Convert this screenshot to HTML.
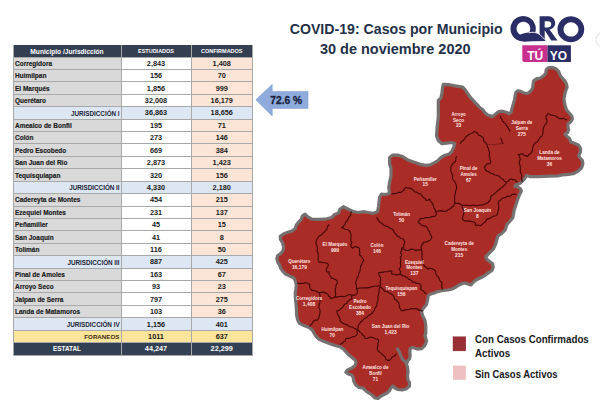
<!DOCTYPE html>
<html><head><meta charset="utf-8"><title>COVID-19: Casos por Municipio</title>
<style>
*{margin:0;padding:0;box-sizing:border-box}
html,body{width:600px;height:412px;overflow:hidden;background:#fff}
body{position:relative;font-family:"Liberation Sans",Arial,sans-serif}
.r{position:absolute}
.hl{position:absolute;left:13px;width:239.5px;height:1px;background:#a8a8a8}
.vl{position:absolute;top:45px;height:310.01px;width:1px;background:#a8a8a8}
.th{position:absolute;height:12px;line-height:12px;text-align:center;color:#fff;font-weight:bold;white-space:nowrap}
.th.sm{font-size:5.5px;}
.tn{position:absolute;left:15px;height:12.417px;line-height:12.417px;font-size:6.5px;font-weight:bold;color:#1a1a1a;white-space:nowrap;-webkit-text-stroke:0.15px #1a1a1a}
.tj{position:absolute;left:13px;width:106.6px;text-align:right;height:12.417px;line-height:12.417px;font-size:6.3px;font-weight:bold;color:#1b2436;white-space:nowrap;letter-spacing:0px}
.tf{position:absolute;left:13px;width:106.4px;text-align:right;height:12.417px;line-height:12.417px;font-size:6.2px;font-weight:bold;color:#3d2a0e;white-space:nowrap;letter-spacing:0px}
.te{position:absolute;left:13px;width:108px;text-align:center;height:12.417px;line-height:12.417px;font-size:6.4px;font-weight:bold;color:#fff;white-space:nowrap}
.num{position:absolute;height:12.417px;line-height:12.417px;text-align:center;font-size:7.3px;font-weight:bold;white-space:nowrap}
.title{position:absolute;width:300px;text-align:center;color:#233048;font-weight:bold;line-height:1;white-space:nowrap}
svg{position:absolute;left:0;top:0}
.leg{position:absolute;left:475.3px;color:#181818;font-weight:bold;font-size:10px;white-space:nowrap;line-height:13.7px;transform-origin:0 0}
</style></head><body>
<div class="r" style="left:13px;top:57.00px;width:108px;height:12.42px;background:#d9d9d9;"></div><div class="r" style="left:121px;top:57.00px;width:70px;height:12.42px;background:#ffffff;"></div><div class="r" style="left:191px;top:57.00px;width:61.5px;height:12.42px;background:#fce4d6;"></div><div class="r" style="left:13px;top:69.42px;width:108px;height:12.42px;background:#d9d9d9;"></div><div class="r" style="left:121px;top:69.42px;width:70px;height:12.42px;background:#ffffff;"></div><div class="r" style="left:191px;top:69.42px;width:61.5px;height:12.42px;background:#fce4d6;"></div><div class="r" style="left:13px;top:81.83px;width:108px;height:12.42px;background:#d9d9d9;"></div><div class="r" style="left:121px;top:81.83px;width:70px;height:12.42px;background:#ffffff;"></div><div class="r" style="left:191px;top:81.83px;width:61.5px;height:12.42px;background:#fce4d6;"></div><div class="r" style="left:13px;top:94.25px;width:108px;height:12.42px;background:#d9d9d9;"></div><div class="r" style="left:121px;top:94.25px;width:70px;height:12.42px;background:#ffffff;"></div><div class="r" style="left:191px;top:94.25px;width:61.5px;height:12.42px;background:#fce4d6;"></div><div class="r" style="left:13px;top:106.67px;width:108px;height:12.42px;background:#dde7f3;"></div><div class="r" style="left:121px;top:106.67px;width:70px;height:12.42px;background:#dde7f3;"></div><div class="r" style="left:191px;top:106.67px;width:61.5px;height:12.42px;background:#dde7f3;"></div><div class="r" style="left:13px;top:119.09px;width:108px;height:12.42px;background:#d9d9d9;"></div><div class="r" style="left:121px;top:119.09px;width:70px;height:12.42px;background:#ffffff;"></div><div class="r" style="left:191px;top:119.09px;width:61.5px;height:12.42px;background:#fce4d6;"></div><div class="r" style="left:13px;top:131.50px;width:108px;height:12.42px;background:#d9d9d9;"></div><div class="r" style="left:121px;top:131.50px;width:70px;height:12.42px;background:#ffffff;"></div><div class="r" style="left:191px;top:131.50px;width:61.5px;height:12.42px;background:#fce4d6;"></div><div class="r" style="left:13px;top:143.92px;width:108px;height:12.42px;background:#d9d9d9;"></div><div class="r" style="left:121px;top:143.92px;width:70px;height:12.42px;background:#ffffff;"></div><div class="r" style="left:191px;top:143.92px;width:61.5px;height:12.42px;background:#fce4d6;"></div><div class="r" style="left:13px;top:156.34px;width:108px;height:12.42px;background:#d9d9d9;"></div><div class="r" style="left:121px;top:156.34px;width:70px;height:12.42px;background:#ffffff;"></div><div class="r" style="left:191px;top:156.34px;width:61.5px;height:12.42px;background:#fce4d6;"></div><div class="r" style="left:13px;top:168.75px;width:108px;height:12.42px;background:#d9d9d9;"></div><div class="r" style="left:121px;top:168.75px;width:70px;height:12.42px;background:#ffffff;"></div><div class="r" style="left:191px;top:168.75px;width:61.5px;height:12.42px;background:#fce4d6;"></div><div class="r" style="left:13px;top:181.17px;width:108px;height:12.42px;background:#dde7f3;"></div><div class="r" style="left:121px;top:181.17px;width:70px;height:12.42px;background:#dde7f3;"></div><div class="r" style="left:191px;top:181.17px;width:61.5px;height:12.42px;background:#dde7f3;"></div><div class="r" style="left:13px;top:193.59px;width:108px;height:12.42px;background:#d9d9d9;"></div><div class="r" style="left:121px;top:193.59px;width:70px;height:12.42px;background:#ffffff;"></div><div class="r" style="left:191px;top:193.59px;width:61.5px;height:12.42px;background:#fce4d6;"></div><div class="r" style="left:13px;top:206.00px;width:108px;height:12.42px;background:#d9d9d9;"></div><div class="r" style="left:121px;top:206.00px;width:70px;height:12.42px;background:#ffffff;"></div><div class="r" style="left:191px;top:206.00px;width:61.5px;height:12.42px;background:#fce4d6;"></div><div class="r" style="left:13px;top:218.42px;width:108px;height:12.42px;background:#d9d9d9;"></div><div class="r" style="left:121px;top:218.42px;width:70px;height:12.42px;background:#ffffff;"></div><div class="r" style="left:191px;top:218.42px;width:61.5px;height:12.42px;background:#fce4d6;"></div><div class="r" style="left:13px;top:230.84px;width:108px;height:12.42px;background:#d9d9d9;"></div><div class="r" style="left:121px;top:230.84px;width:70px;height:12.42px;background:#ffffff;"></div><div class="r" style="left:191px;top:230.84px;width:61.5px;height:12.42px;background:#fce4d6;"></div><div class="r" style="left:13px;top:243.25px;width:108px;height:12.42px;background:#d9d9d9;"></div><div class="r" style="left:121px;top:243.25px;width:70px;height:12.42px;background:#ffffff;"></div><div class="r" style="left:191px;top:243.25px;width:61.5px;height:12.42px;background:#fce4d6;"></div><div class="r" style="left:13px;top:255.67px;width:108px;height:12.42px;background:#dde7f3;"></div><div class="r" style="left:121px;top:255.67px;width:70px;height:12.42px;background:#dde7f3;"></div><div class="r" style="left:191px;top:255.67px;width:61.5px;height:12.42px;background:#dde7f3;"></div><div class="r" style="left:13px;top:268.09px;width:108px;height:12.42px;background:#d9d9d9;"></div><div class="r" style="left:121px;top:268.09px;width:70px;height:12.42px;background:#ffffff;"></div><div class="r" style="left:191px;top:268.09px;width:61.5px;height:12.42px;background:#fce4d6;"></div><div class="r" style="left:13px;top:280.51px;width:108px;height:12.42px;background:#d9d9d9;"></div><div class="r" style="left:121px;top:280.51px;width:70px;height:12.42px;background:#ffffff;"></div><div class="r" style="left:191px;top:280.51px;width:61.5px;height:12.42px;background:#fce4d6;"></div><div class="r" style="left:13px;top:292.92px;width:108px;height:12.42px;background:#d9d9d9;"></div><div class="r" style="left:121px;top:292.92px;width:70px;height:12.42px;background:#ffffff;"></div><div class="r" style="left:191px;top:292.92px;width:61.5px;height:12.42px;background:#fce4d6;"></div><div class="r" style="left:13px;top:305.34px;width:108px;height:12.42px;background:#d9d9d9;"></div><div class="r" style="left:121px;top:305.34px;width:70px;height:12.42px;background:#ffffff;"></div><div class="r" style="left:191px;top:305.34px;width:61.5px;height:12.42px;background:#fce4d6;"></div><div class="r" style="left:13px;top:317.76px;width:108px;height:12.42px;background:#dde7f3;"></div><div class="r" style="left:121px;top:317.76px;width:70px;height:12.42px;background:#dde7f3;"></div><div class="r" style="left:191px;top:317.76px;width:61.5px;height:12.42px;background:#dde7f3;"></div><div class="r" style="left:13px;top:330.17px;width:108px;height:12.42px;background:#fde49b;"></div><div class="r" style="left:121px;top:330.17px;width:70px;height:12.42px;background:#fde49b;"></div><div class="r" style="left:191px;top:330.17px;width:61.5px;height:12.42px;background:#fde49b;"></div><div class="r" style="left:13px;top:342.59px;width:108px;height:12.42px;background:#333f52;"></div><div class="r" style="left:121px;top:342.59px;width:70px;height:12.42px;background:#333f52;"></div><div class="r" style="left:191px;top:342.59px;width:61.5px;height:12.42px;background:#333f52;"></div><div class="r" style="left:13px;top:45.00px;width:239.5px;height:12.00px;background:#343f52;"></div>
<div class="hl" style="top:56.50px"></div><div class="hl" style="top:68.92px"></div><div class="hl" style="top:81.33px"></div><div class="hl" style="top:93.75px"></div><div class="hl" style="top:106.17px"></div><div class="hl" style="top:118.59px"></div><div class="hl" style="top:131.00px"></div><div class="hl" style="top:143.42px"></div><div class="hl" style="top:155.84px"></div><div class="hl" style="top:168.25px"></div><div class="hl" style="top:180.67px"></div><div class="hl" style="top:193.09px"></div><div class="hl" style="top:205.50px"></div><div class="hl" style="top:217.92px"></div><div class="hl" style="top:230.34px"></div><div class="hl" style="top:242.75px"></div><div class="hl" style="top:255.17px"></div><div class="hl" style="top:267.59px"></div><div class="hl" style="top:280.01px"></div><div class="hl" style="top:292.42px"></div><div class="hl" style="top:304.84px"></div><div class="hl" style="top:317.26px"></div><div class="hl" style="top:329.67px"></div><div class="hl" style="top:342.09px"></div><div class="hl" style="top:354.51px"></div><div class="vl" style="left:12.5px"></div><div class="vl" style="left:120.5px"></div><div class="vl" style="left:190.5px"></div><div class="vl" style="left:252.0px"></div>
<div class="th" style="left:13px;width:108px;top:45.8px;font-size:6.6px">Municipio /Jurisdicción</div><div class="th sm" style="left:121px;width:70px;top:45px;">ESTUDIADOS</div><div class="th sm" style="left:191px;width:61.5px;top:45px;">CONFIRMADOS</div><div class="tn" style="top:57.75px">Corregidora</div><div class="num" style="left:121px;width:70px;top:57.80px;color:#1a1a1a">2,843</div><div class="num" style="left:191px;width:61.5px;top:57.80px;color:#1a1a1a">1,408</div><div class="tn" style="top:70.17px">Huimilpan</div><div class="num" style="left:121px;width:70px;top:70.22px;color:#1a1a1a">156</div><div class="num" style="left:191px;width:61.5px;top:70.22px;color:#1a1a1a">70</div><div class="tn" style="top:82.58px">El Marqués</div><div class="num" style="left:121px;width:70px;top:82.63px;color:#1a1a1a">1,856</div><div class="num" style="left:191px;width:61.5px;top:82.63px;color:#1a1a1a">999</div><div class="tn" style="top:95.00px">Querétaro</div><div class="num" style="left:121px;width:70px;top:95.05px;color:#1a1a1a">32,008</div><div class="num" style="left:191px;width:61.5px;top:95.05px;color:#1a1a1a">16,179</div><div class="tj" style="top:107.77px">JURISDICCIÓN I</div><div class="num" style="left:121px;width:70px;top:107.47px;color:#1a1a1a">36,863</div><div class="num" style="left:191px;width:61.5px;top:107.47px;color:#1a1a1a">18,656</div><div class="tn" style="top:119.84px">Amealco de Bonfil</div><div class="num" style="left:121px;width:70px;top:119.89px;color:#1a1a1a">195</div><div class="num" style="left:191px;width:61.5px;top:119.89px;color:#1a1a1a">71</div><div class="tn" style="top:132.25px">Colón</div><div class="num" style="left:121px;width:70px;top:132.30px;color:#1a1a1a">273</div><div class="num" style="left:191px;width:61.5px;top:132.30px;color:#1a1a1a">146</div><div class="tn" style="top:144.67px">Pedro Escobedo</div><div class="num" style="left:121px;width:70px;top:144.72px;color:#1a1a1a">669</div><div class="num" style="left:191px;width:61.5px;top:144.72px;color:#1a1a1a">384</div><div class="tn" style="top:157.09px">San Juan del Río</div><div class="num" style="left:121px;width:70px;top:157.14px;color:#1a1a1a">2,873</div><div class="num" style="left:191px;width:61.5px;top:157.14px;color:#1a1a1a">1,423</div><div class="tn" style="top:169.50px">Tequisquiapan</div><div class="num" style="left:121px;width:70px;top:169.55px;color:#1a1a1a">320</div><div class="num" style="left:191px;width:61.5px;top:169.55px;color:#1a1a1a">156</div><div class="tj" style="top:182.27px">JURISDICCIÓN II</div><div class="num" style="left:121px;width:70px;top:181.97px;color:#1a1a1a">4,330</div><div class="num" style="left:191px;width:61.5px;top:181.97px;color:#1a1a1a">2,180</div><div class="tn" style="top:194.34px">Cadereyta de Montes</div><div class="num" style="left:121px;width:70px;top:194.39px;color:#1a1a1a">454</div><div class="num" style="left:191px;width:61.5px;top:194.39px;color:#1a1a1a">215</div><div class="tn" style="top:206.75px">Ezequiel Montes</div><div class="num" style="left:121px;width:70px;top:206.80px;color:#1a1a1a">231</div><div class="num" style="left:191px;width:61.5px;top:206.80px;color:#1a1a1a">137</div><div class="tn" style="top:219.17px">Peñamiller</div><div class="num" style="left:121px;width:70px;top:219.22px;color:#1a1a1a">45</div><div class="num" style="left:191px;width:61.5px;top:219.22px;color:#1a1a1a">15</div><div class="tn" style="top:231.59px">San Joaquín</div><div class="num" style="left:121px;width:70px;top:231.64px;color:#1a1a1a">41</div><div class="num" style="left:191px;width:61.5px;top:231.64px;color:#1a1a1a">8</div><div class="tn" style="top:244.00px">Tolimán</div><div class="num" style="left:121px;width:70px;top:244.06px;color:#1a1a1a">116</div><div class="num" style="left:191px;width:61.5px;top:244.06px;color:#1a1a1a">50</div><div class="tj" style="top:256.77px">JURISDICCIÓN III</div><div class="num" style="left:121px;width:70px;top:256.47px;color:#1a1a1a">887</div><div class="num" style="left:191px;width:61.5px;top:256.47px;color:#1a1a1a">425</div><div class="tn" style="top:268.84px">Pinal de Amoles</div><div class="num" style="left:121px;width:70px;top:268.89px;color:#1a1a1a">163</div><div class="num" style="left:191px;width:61.5px;top:268.89px;color:#1a1a1a">67</div><div class="tn" style="top:281.26px">Arroyo Seco</div><div class="num" style="left:121px;width:70px;top:281.31px;color:#1a1a1a">93</div><div class="num" style="left:191px;width:61.5px;top:281.31px;color:#1a1a1a">23</div><div class="tn" style="top:293.67px">Jalpan de Serra</div><div class="num" style="left:121px;width:70px;top:293.72px;color:#1a1a1a">797</div><div class="num" style="left:191px;width:61.5px;top:293.72px;color:#1a1a1a">275</div><div class="tn" style="top:306.09px">Landa de Matamoros</div><div class="num" style="left:121px;width:70px;top:306.14px;color:#1a1a1a">103</div><div class="num" style="left:191px;width:61.5px;top:306.14px;color:#1a1a1a">36</div><div class="tj" style="top:318.86px">JURISDICCIÓN IV</div><div class="num" style="left:121px;width:70px;top:318.56px;color:#1a1a1a">1,156</div><div class="num" style="left:191px;width:61.5px;top:318.56px;color:#1a1a1a">401</div><div class="tf" style="top:331.27px">FORANEOS</div><div class="num" style="left:121px;width:70px;top:330.97px;color:#1a1a1a">1011</div><div class="num" style="left:191px;width:61.5px;top:330.97px;color:#1a1a1a">637</div><div class="te" style="top:343.09px">ESTATAL</div><div class="num" style="left:121px;width:70px;top:343.39px;color:#fff">44,247</div><div class="num" style="left:191px;width:61.5px;top:343.39px;color:#fff">22,299</div>
<div class="title" style="left:246.2px;top:21.85px;font-size:14.15px">COVID-19: Casos por Municipio</div>
<div class="title" style="left:245.25px;top:41.7px;font-size:14.5px">30 de noviembre 2020</div>
<svg width="600" height="412" viewBox="0 0 600 412">
 <polygon points="255.8,99.8 272.2,84.4 272.2,91.4 308,91.4 308,108.4 272.2,108.4 272.2,115.9" fill="#8eabdc" stroke="#7f9fd6" stroke-width="0.6"/>
 <text x="286.2" y="103.7" text-anchor="middle" font-family="Liberation Sans,Arial,sans-serif" font-weight="bold" font-size="10.2" fill="#1a2340" stroke="#1a2340" stroke-width="0.3">72.6 %</text>
 <polygon points="443.3,84.3 449.3,84.7 455.3,85.9 462.6,87.1 465.0,89.6 467.5,93.2 470.0,97.0 472.3,99.3 475.0,102.5 478.0,105.5 480.0,107.8 482.9,109.8 484.9,112.7 487.8,115.1 492.6,116.6 495.5,114.1 498.4,111.7 502.3,111.2 506.2,112.2 509.1,113.6 511.1,112.2 512.0,108.3 513.5,103.4 514.5,99.6 515.4,94.7 515.9,92.3 517.9,90.8 520.0,91.1 523.9,93.0 527.8,93.5 530.7,91.1 532.6,88.2 533.1,84.3 533.6,80.9 536.5,78.9 540.4,78.0 543.3,76.0 545.7,73.6 546.2,69.7 548.2,67.8 552.0,67.3 555.9,68.7 558.8,71.7 559.8,74.6 561.7,77.5 564.7,80.9 566.6,84.3 567.1,87.2 565.6,91.1 564.7,95.0 563.9,99.0 564.8,104.2 566.4,109.7 569.1,113.0 571.9,116.3 572.4,119.0 570.8,121.7 568.0,123.9 568.0,127.2 568.6,129.4 567.5,132.7 565.0,134.2 566.5,136.1 569.6,138.5 570.8,142.1 574.4,143.3 578.7,145.2 580.5,148.2 580.5,151.8 578.7,155.5 579.9,157.9 582.3,160.3 582.9,164.0 581.7,167.6 579.3,170.0 576.8,171.9 573.2,173.7 568.3,174.3 562.3,174.9 557.4,176.0 549.4,176.2 538.7,176.7 530.7,176.7 526.7,175.4 524.1,179.4 520.0,183.4 516.0,184.7 514.9,186.5 517.0,186.5 520.2,188.5 521.4,190.9 520.2,193.3 519.0,195.8 517.7,199.4 516.5,203.0 515.3,206.7 514.1,210.3 513.5,213.9 512.9,217.6 509.8,221.2 506.8,224.8 505.3,229.8 501.7,233.5 498.0,235.9 496.8,239.5 495.6,244.4 493.2,249.2 489.5,252.9 485.9,256.5 486.5,258.9 489.5,261.4 492.6,263.8 493.2,267.4 492.0,270.5 488.3,272.9 484.0,276.0 480.0,278.0 476.0,280.0 473.0,282.5 471.0,285.0 468.0,284.0 465.0,283.0 462.0,283.5 459.0,285.0 456.0,287.0 452.0,289.0 448.0,290.0 443.0,290.5 438.0,291.5 434.0,293.0 430.0,294.3 428.4,295.5 427.5,300.0 426.5,304.4 423.6,308.0 421.4,311.6 422.8,316.0 425.0,320.4 425.8,326.2 425.8,333.5 424.9,335.5 426.6,340.9 424.9,345.3 421.7,348.6 417.3,349.1 412.9,347.5 410.2,348.6 409.7,351.8 410.2,355.1 409.7,358.4 407.5,361.1 406.4,363.8 407.5,367.1 408.0,371.5 407.5,376.0 408.0,380.0 409.5,382.5 409.5,386.0 406.0,389.0 402.0,390.0 398.0,389.5 395.0,388.0 393.0,386.0 391.5,387.0 389.5,390.5 387.0,393.0 384.0,394.5 381.0,396.0 378.0,398.5 375.0,398.0 372.0,395.0 368.0,392.5 365.0,390.0 363.0,388.0 359.0,387.5 355.6,384.8 353.8,381.2 353.2,377.6 352.0,375.2 348.3,373.9 345.9,372.1 347.1,370.3 352.0,367.9 355.0,365.5 356.2,362.4 355.0,360.0 352.0,357.6 348.3,354.5 343.5,349.1 339.8,346.7 335.0,345.5 330.1,343.8 324.3,341.6 319.2,339.4 315.6,335.8 312.7,330.7 309.7,327.8 303.9,325.6 299.6,323.4 297.5,319.5 296.6,315.0 296.5,310.3 296.0,304.3 295.4,298.2 295.2,293.3 295.8,289.7 296.3,285.0 295.7,282.0 294.5,279.0 293.3,277.4 289.4,275.9 285.5,274.0 282.6,271.1 280.7,268.2 279.7,265.2 277.8,262.3 276.8,258.4 277.8,255.5 280.7,253.6 283.1,250.7 283.6,246.8 282.6,242.9 280.5,239.5 280.2,236.3 283.5,234.1 287.8,232.3 292.0,231.1 295.1,228.7 296.3,225.0 298.7,222.0 301.1,219.6 302.5,215.8 305.0,214.2 307.5,216.7 311.7,219.2 318.3,219.4 325.0,219.2 331.7,217.5 335.0,214.2 338.3,213.3 340.0,209.2 343.3,206.7 348.3,209.2 353.3,211.7 358.3,212.5 364.2,211.7 368.3,212.5 373.3,213.3 377.5,211.7 378.5,206.7 379.1,201.8 379.7,197.0 381.5,194.0 385.8,194.6 389.4,193.3 388.8,187.3 389.5,182.8 391.0,175.6 391.0,168.3 389.6,163.9 389.6,157.4 392.5,155.2 398.3,155.2 402.7,156.6 408.5,160.3 412.8,161.7 417.2,163.2 421.6,164.7 425.9,165.4 429.9,164.9 433.5,163.1 437.1,161.3 440.8,157.6 445.0,155.2 449.3,154.0 451.7,151.6 453.5,147.9 454.7,143.7 451.7,142.5 446.8,143.1 442.0,143.7 438.3,140.6 436.5,135.8 437.1,127.3 437.7,122.0 438.3,117.5 438.3,111.4 438.3,105.3 438.3,100.5 440.8,98.1 442.0,93.2 442.6,87.1" fill="#aa2c27" stroke="#767171" stroke-width="3.2" stroke-linejoin="round"/>
 <path d="M397.4,348.9 L399.3,351.8 L400.9,356.2 L402.6,359.5 L405.3,361.7 L406.9,362.8" fill="none" stroke="#767171" stroke-width="3" stroke-linecap="round"/>
 <g fill="none" stroke="#420707" stroke-width="1.1" stroke-linejoin="round">
 <path d="M500.4,115.9 L500.5,117.6 L501.8,118.8 L502.4,120.9 L504.0,122.5 L505.6,123.6 L506.2,125.4 L507.7,127.0 L508.4,129.0 L509.7,130.2 L509.8,131.9"/>
<path d="M500.4,137.8 L501.4,139.1 L501.8,140.7 L502.1,142.4 L503.3,143.6"/>
<path d="M460.2,143.7 L461.3,141.8 L463.0,140.5 L464.5,139.2 L465.5,137.5 L466.1,136.2 L467.6,135.9 L468.7,134.4 L470.5,133.7 L472.5,133.0 L474.1,131.6 L476.3,132.3 L477.7,133.5 L478.5,135.2 L480.1,135.5 L481.4,136.6 L482.9,137.3 L483.6,138.8 L483.4,140.4 L484.3,141.7 L485.7,142.5 L486.5,143.9 L487.3,145.2 L487.2,146.8 L488.5,148.4 L488.7,150.5 L489.6,152.2 L489.4,154.1 L489.1,156.1 L490.1,157.8 L490.0,159.7 L490.9,161.4 L490.1,163.6 L488.2,163.5 L486.5,164.3 L485.8,165.8 L484.3,166.5 L485.0,167.9 L485.0,169.4 L486.6,171.0 L488.7,171.6 L490.6,173.2 L493.0,173.8 L494.7,175.0 L496.7,175.2 L498.7,176.0 L500.3,177.4 L501.7,178.8 L503.5,179.5 L504.1,180.9 L505.4,181.7"/>
<path d="M456.6,156.3 L455.8,158.0 L455.9,159.9 L455.3,161.7 L453.7,162.8 L452.3,164.0 L451.6,165.8 L450.7,167.1 L450.8,168.7 L450.8,170.9 L451.6,173.0 L452.7,174.9 L452.5,177.0 L452.7,179.2 L454.0,181.0 L455.6,183.3 L456.5,186.0 L456.7,188.4 L455.5,190.9 L455.4,193.7 L454.6,196.3 L454.7,199.0 L454.4,201.1 L455.4,203.0"/>
<path d="M435.5,211.3 L438.1,211.3 L440.6,210.6 L443.4,211.4 L446.4,211.3 L448.3,209.4 L450.8,208.4 L451.9,206.9 L453.7,206.5 L454.0,204.5 L455.4,203.0"/>
<path d="M455.4,203.0 L457.0,203.5 L458.7,203.0 L460.2,204.3 L462.0,205.0 L464.4,205.5 L466.7,205.0 L470.0,205.7 L473.4,205.0 L476.7,205.7 L480.0,205.0 L482.8,204.9 L485.4,203.7 L487.7,202.8 L489.4,201.0 L490.7,198.9 L490.7,196.4 L491.9,195.4 L493.4,195.0 L494.5,193.4 L496.1,192.4 L497.5,190.8 L499.4,189.7 L500.5,188.3 L502.1,187.7 L503.2,186.1 L504.8,185.0 L506.0,183.6 L506.1,181.7 L507.8,181.6 L508.8,180.3 L509.9,179.2 L511.4,179.0 L513.0,179.8 L514.8,179.7 L515.9,181.1 L517.5,182.0"/>
<path d="M462.0,205.0 L462.3,207.5 L463.4,209.7 L464.1,212.3 L463.4,215.0 L462.6,217.3 L462.7,219.7 L464.5,220.9 L466.7,221.1 L469.4,221.1 L472.0,221.7 L473.9,221.9 L475.4,223.1 L475.1,224.5 L476.0,225.7 L478.0,225.0 L480.0,225.7 L481.9,224.7 L483.4,223.1 L485.6,221.5 L486.7,219.1 L488.9,218.9 L490.7,217.7 L493.2,216.1 L496.1,215.7 L497.6,213.6 L498.1,211.0 L498.8,208.4 L498.7,205.7 L498.1,203.3 L498.7,201.0 L500.4,200.4 L501.4,199.0 L503.2,197.8 L505.4,197.7 L506.9,196.4 L508.8,196.4 L510.7,195.7 L512.1,194.4 L514.4,194.1 L516.5,195.0"/>
<path d="M567.0,119.8 L565.7,119.6 L563.8,118.4 L561.5,118.6 L559.3,118.6 L557.4,117.5 L555.6,116.0 L553.3,115.5 L550.5,114.9 L548.1,113.4 L547.5,114.8 L546.1,115.5 L546.0,118.2 L547.1,120.6 L546.7,122.9 L545.1,124.7 L543.5,127.6 L543.0,130.9 L542.9,133.6 L542.0,136.1 L540.1,137.3 L538.9,139.2 L537.3,141.7 L534.7,143.3 L533.2,145.7 L532.7,148.5 L532.2,151.3 L530.6,153.6 L528.7,154.8 L527.5,156.7 L526.2,155.5 L524.4,155.7 L523.1,154.3 L521.3,153.6 L519.9,154.5 L518.2,154.6 L519.7,157.0 L520.3,159.8 L519.2,161.7 L519.3,163.9 L520.3,166.4 L520.3,169.1 L520.2,171.8 L521.3,174.2 L521.9,176.3 L521.3,178.4 L522.2,180.1 L521.8,182.0"/>
<path d="M391.5,194.5 L392.7,193.6 L394.3,193.6 L396.1,193.4 L398.6,192.4 L401.2,192.4 L403.7,190.1 L405.6,187.3 L407.7,188.2 L410.0,188.0 L412.6,189.4 L414.4,191.7 L416.9,192.1 L418.7,193.8 L420.3,193.8 L421.6,194.6 L422.2,196.4 L423.8,197.5 L425.3,198.6 L426.0,200.4 L428.1,200.2 L429.7,199.0 L430.5,201.0 L431.9,202.6 L433.3,205.4 L434.0,208.4 L435.2,209.6 L435.5,211.3 L436.3,213.1 L436.2,215.0"/>
<path d="M436.2,215.0 L435.0,216.3 L433.3,216.4 L429.7,217.4 L426.0,217.6 L423.2,218.5 L420.2,218.6 L419.6,220.4 L418.0,221.5 L418.8,222.9 L420.2,223.7 L421.7,225.3 L423.8,225.9 L426.0,226.4 L427.5,228.1 L428.0,230.2 L429.7,231.7 L429.8,233.8 L431.1,235.4 L431.8,236.9 L431.5,238.5 L429.9,240.4 L427.6,241.3 L425.7,242.3 L423.6,242.1 L423.2,243.5 L422.1,244.5 L421.1,246.8 L421.3,249.2"/>
<path d="M376.1,217.4 L377.6,218.5 L378.3,220.3 L379.7,222.2 L381.9,223.2 L383.4,225.1 L385.6,226.1 L388.1,226.6 L389.9,228.3 L392.0,229.0 L393.6,230.5 L394.0,232.1 L395.0,233.4 L396.5,234.5 L397.2,236.3 L399.4,236.9 L400.9,238.5 L402.6,238.7 L403.8,239.9 L404.7,241.6 L404.5,243.6 L403.6,245.3 L403.8,247.2 L402.4,247.5 L401.6,248.7 L401.8,250.3 L400.9,251.6 L400.6,253.2 L401.6,254.5 L401.4,256.2 L400.1,257.4 L400.9,259.1 L400.8,261.0 L400.3,263.0 L400.8,265.0 L400.5,267.2 L399.2,268.9 L399.7,270.3 L400.8,271.3 L400.2,272.9 L400.8,274.5"/>
<path d="M401.6,248.7 L403.6,248.8 L405.2,250.1 L407.4,250.5 L409.6,250.1 L410.9,249.0 L412.6,249.2 L414.5,249.5 L415.8,250.8 L417.2,249.9 L418.9,250.0 L420.2,250.0 L421.3,249.2"/>
<path d="M421.3,249.2 L422.1,252.3 L422.1,255.5 L421.8,258.0 L422.9,260.2 L423.2,263.5 L424.4,266.5 L426.3,267.3 L427.6,268.9 L430.0,268.3 L432.3,268.9 L434.2,269.7 L435.5,271.3 L435.8,273.8 L437.1,276.0 L438.6,277.3 L439.4,279.2 L440.2,281.1 L441.8,282.3 L442.0,284.4 L441.5,286.5 L442.4,288.2 L442.0,290.0"/>
<path d="M356.3,288.8 L360.1,288.0 L364.0,287.9 L367.4,287.9 L370.7,287.1 L374.0,286.2 L377.5,286.2 L379.0,285.6 L380.5,286.2 L380.7,284.1 L379.9,282.2 L380.8,279.8 L380.5,277.3 L379.1,275.3 L378.6,273.0 L380.4,272.2 L382.3,272.4 L384.7,271.7 L387.2,271.8 L389.5,270.9 L392.0,271.2 L391.6,272.8 L392.0,274.3 L394.5,274.2 L396.9,274.9 L398.8,274.2 L400.8,274.5 L402.9,276.0 L405.4,276.1 L406.2,277.5 L407.8,277.9 L408.7,279.3 L410.2,279.7 L411.8,280.6 L412.7,282.2 L414.7,282.2 L416.3,283.4 L418.2,283.3 L420.0,284.0 L421.0,285.3 L421.2,287.0 L420.6,288.5 L421.2,290.0 L422.6,290.3 L423.6,291.3 L424.8,292.5 L426.5,294.0"/>
<path d="M380.3,287.0 L382.8,288.8 L384.7,291.3 L386.8,291.2 L388.4,292.5 L391.0,293.7 L393.2,295.5 L394.3,297.2 L394.4,299.2 L396.4,299.9 L397.5,301.6 L398.9,303.1 L399.3,305.2 L399.3,307.2 L400.5,308.9 L401.1,310.7 L403.4,310.8 L405.4,309.5 L407.9,309.8 L410.2,308.9 L412.1,308.5 L413.9,309.1 L415.7,308.5 L417.5,308.9 L418.4,310.1 L420.0,310.1 L421.4,310.5 L422.5,311.5"/>
<path d="M380.3,287.0 L379.3,288.1 L379.2,289.6 L379.2,292.2 L378.4,294.7 L377.7,297.2 L378.4,299.8 L377.0,302.6 L376.7,305.7 L375.1,308.1 L374.1,310.8 L372.7,312.8 L370.7,314.2 L368.4,315.6 L366.5,317.6 L364.0,318.8 L362.3,321.0 L360.7,322.0 L359.7,323.6 L358.5,324.8 L358.0,326.5 L358.0,328.2 L357.4,329.7"/>
<path d="M351.5,211.5 L350.8,213.2 L350.9,215.1 L349.2,216.5 L348.4,218.5 L347.4,220.5 L345.8,221.9 L345.3,223.8 L344.1,225.3 L343.1,226.8 L341.6,227.8 L343.0,227.8 L344.1,228.7 L345.7,229.5 L347.5,229.5 L349.1,230.5 L350.1,232.1 L351.1,234.6 L350.9,237.2 L350.7,239.9 L351.8,242.3 L351.0,244.3 L350.9,246.5 L352.6,248.2 L354.1,247.0 L356.0,246.5 L357.1,247.5 L358.6,247.4 L359.6,248.9 L359.4,250.7 L360.0,252.8 L359.4,255.0 L361.0,256.0 L362.0,257.5 L363.2,259.0 L363.7,260.9 L362.2,262.3 L362.0,264.3 L360.6,266.2 L360.3,268.6 L360.0,271.3 L358.6,273.7 L358.3,276.0 L357.0,278.0 L356.7,280.2 L355.5,282.0 L356.5,285.3 L356.3,288.8 L357.3,290.4 L357.2,292.2 L356.9,293.8 L355.5,294.7"/>
<path d="M329.3,224.5 L327.9,225.9 L327.2,227.8 L326.9,229.5 L325.5,230.4 L324.6,232.1 L322.9,232.9 L322.0,234.5 L320.4,235.5 L318.7,236.4 L317.8,238.0 L316.6,239.5 L316.1,241.4 L315.9,243.7 L317.0,245.7 L317.4,248.2 L317.0,250.7 L318.1,253.3 L318.3,256.1 L318.0,259.2 L318.9,262.1 L321.1,262.0 L323.2,262.7 L325.7,262.8 L328.0,263.9 L328.3,265.6 L327.4,267.0 L326.4,269.0 L326.2,271.2 L327.6,272.0 L329.2,271.8 L328.9,273.7 L329.8,275.5 L330.9,276.8 L331.1,278.5 L332.7,278.1 L334.1,279.1 L335.5,279.3 L336.5,280.3 L337.4,282.0 L337.1,283.9 L335.8,285.5 L335.9,287.6 L335.2,289.3 L335.3,291.2 L335.7,293.6 L335.3,296.1 L336.8,297.3 L339.3,296.5 L341.9,296.4 L344.6,296.7 L347.0,295.6 L348.6,294.6 L350.4,294.7 L352.9,295.4 L355.5,294.7"/>
<path d="M297.0,283.0 L299.3,283.6 L301.7,283.3 L303.4,283.5 L305.0,282.7 L307.5,283.3 L309.8,284.5 L309.6,286.7 L310.5,288.8 L311.8,290.1 L313.5,290.6 L315.5,290.7 L317.1,291.8 L318.9,292.6 L320.8,292.4 L322.4,292.4 L323.8,291.8 L324.7,293.0 L326.2,293.0 L327.9,294.1 L328.6,296.1 L330.0,296.9 L330.5,298.5 L332.8,298.1 L334.7,296.9 L336.8,297.3"/>
<path d="M319.1,292.5 L320.1,295.6 L320.1,298.8 L320.1,301.8 L319.1,304.7 L319.0,307.7 L320.1,310.5 L320.0,313.5 L319.1,316.3 L318.7,318.5 L317.2,320.2 L315.1,320.1 L313.3,321.2 L312.7,322.9 L311.4,324.1 L310.2,325.3 L310.0,327.0"/>
<path d="M352.0,295.2 L351.6,297.1 L352.0,299.0 L350.1,299.3 L348.7,300.7 L347.3,301.6 L347.0,303.2 L344.9,303.9 L343.6,305.7 L342.3,307.8 L340.2,309.1 L338.8,310.6 L336.8,310.8 L337.2,313.5 L338.5,315.9 L339.9,318.3 L340.2,321.0 L342.5,323.1 L345.3,324.4 L347.2,324.9 L348.7,326.1 L350.7,327.0 L352.9,327.0 L354.0,328.2 L355.5,328.7 L357.4,329.7"/>
<path d="M357.4,329.7 L356.9,331.7 L357.4,333.7 L356.4,335.4 L354.7,336.4 L352.6,336.7 L350.7,337.7 L348.8,338.4 L346.7,338.4 L345.5,339.4 L345.3,341.0 L343.6,341.5 L342.7,343.0 L341.1,343.5 L340.0,344.8"/>
<path d="M357.4,329.7 L359.0,330.7 L360.0,332.4 L361.7,333.4 L362.7,335.0 L364.4,336.4 L365.4,338.4 L367.1,338.5 L368.7,337.7 L371.0,337.0 L373.4,337.7 L375.3,338.8 L377.4,339.0 L378.5,340.1 L378.7,341.7 L377.7,343.6 L378.0,345.7 L377.3,347.6 L377.4,349.7 L378.4,351.3 L380.0,352.4 L381.6,353.4 L382.7,355.0 L384.4,356.0 L385.4,357.7 L386.0,359.3 L387.4,360.4 L389.3,360.4 L390.7,359.1 L391.8,357.5 L393.4,356.4 L395.3,355.4 L396.3,353.5"/><path d="M503.3,143.6 L498.9,143.9 L493,144.7 L487.5,144.3" stroke-opacity="0.35"/>
 </g>
 <g font-family="Liberation Sans,Arial,sans-serif" font-size="5.1" font-weight="bold" fill="#ffe6e2" text-anchor="middle">
 <text x="458.6" y="115.8" textLength="14.4" lengthAdjust="spacingAndGlyphs">Arroyo</text>
<text x="458.6" y="121.6" textLength="11.2" lengthAdjust="spacingAndGlyphs">Seco</text>
<text x="458.6" y="127.3" textLength="5.4" lengthAdjust="spacingAndGlyphs">23</text>
<text x="521.8" y="124.1" textLength="21.2" lengthAdjust="spacingAndGlyphs">Jalpan de</text>
<text x="521.8" y="129.8" textLength="12.0" lengthAdjust="spacingAndGlyphs">Serra</text>
<text x="521.8" y="135.6" textLength="8.2" lengthAdjust="spacingAndGlyphs">275</text>
<text x="549.5" y="154.2" textLength="20.4" lengthAdjust="spacingAndGlyphs">Landa de</text>
<text x="549.5" y="160.0" textLength="24.5" lengthAdjust="spacingAndGlyphs">Matamoros</text>
<text x="549.5" y="165.7" textLength="5.4" lengthAdjust="spacingAndGlyphs">36</text>
<text x="468.6" y="170.2" textLength="17.7" lengthAdjust="spacingAndGlyphs">Pinal de</text>
<text x="468.6" y="176.0" textLength="16.3" lengthAdjust="spacingAndGlyphs">Amoles</text>
<text x="468.6" y="181.7" textLength="5.4" lengthAdjust="spacingAndGlyphs">67</text>
<text x="425.3" y="180.5" textLength="23.1" lengthAdjust="spacingAndGlyphs">Peñamiller</text>
<text x="425.3" y="186.2" textLength="5.4" lengthAdjust="spacingAndGlyphs">15</text>
<text x="477.4" y="212.1" textLength="27.5" lengthAdjust="spacingAndGlyphs">San Joaquín</text>
<text x="477.4" y="217.8" textLength="2.7" lengthAdjust="spacingAndGlyphs">8</text>
<text x="401.6" y="216.1" textLength="16.9" lengthAdjust="spacingAndGlyphs">Tolimán</text>
<text x="401.6" y="221.8" textLength="5.4" lengthAdjust="spacingAndGlyphs">50</text>
<text x="459.2" y="245.1" textLength="29.4" lengthAdjust="spacingAndGlyphs">Cadereyta de</text>
<text x="459.2" y="250.8" textLength="16.1" lengthAdjust="spacingAndGlyphs">Montes</text>
<text x="459.2" y="256.6" textLength="8.2" lengthAdjust="spacingAndGlyphs">215</text>
<text x="335" y="245.8" textLength="24.8" lengthAdjust="spacingAndGlyphs">El Marqués</text>
<text x="335" y="251.6" textLength="8.2" lengthAdjust="spacingAndGlyphs">999</text>
<text x="377" y="247.3" textLength="12.8" lengthAdjust="spacingAndGlyphs">Colón</text>
<text x="377" y="253.1" textLength="8.2" lengthAdjust="spacingAndGlyphs">146</text>
<text x="299.4" y="262.8" textLength="22.1" lengthAdjust="spacingAndGlyphs">Querétaro</text>
<text x="299.4" y="268.5" textLength="15.0" lengthAdjust="spacingAndGlyphs">16,179</text>
<text x="414.3" y="263.7" textLength="18.8" lengthAdjust="spacingAndGlyphs">Ezequiel</text>
<text x="414.3" y="269.4" textLength="16.1" lengthAdjust="spacingAndGlyphs">Montes</text>
<text x="414.3" y="275.2" textLength="8.2" lengthAdjust="spacingAndGlyphs">137</text>
<text x="401.4" y="290.4" textLength="31.6" lengthAdjust="spacingAndGlyphs">Tequisquiapan</text>
<text x="401.4" y="296.1" textLength="8.2" lengthAdjust="spacingAndGlyphs">156</text>
<text x="309" y="300.1" textLength="25.9" lengthAdjust="spacingAndGlyphs">Corregidora</text>
<text x="309" y="305.8" textLength="12.3" lengthAdjust="spacingAndGlyphs">1,408</text>
<text x="360" y="303.3" textLength="13.1" lengthAdjust="spacingAndGlyphs">Pedro</text>
<text x="360" y="309.0" textLength="21.8" lengthAdjust="spacingAndGlyphs">Escobedo</text>
<text x="360" y="314.8" textLength="8.2" lengthAdjust="spacingAndGlyphs">384</text>
<text x="332.3" y="331.0" textLength="21.8" lengthAdjust="spacingAndGlyphs">Huimilpan</text>
<text x="332.3" y="336.8" textLength="5.4" lengthAdjust="spacingAndGlyphs">70</text>
<text x="390.6" y="328.1" textLength="37.6" lengthAdjust="spacingAndGlyphs">San Juan del Río</text>
<text x="390.6" y="333.8" textLength="12.3" lengthAdjust="spacingAndGlyphs">1,423</text>
<text x="375.5" y="369.0" textLength="25.9" lengthAdjust="spacingAndGlyphs">Amealco de</text>
<text x="375.5" y="374.8" textLength="12.3" lengthAdjust="spacingAndGlyphs">Bonfil</text>
<text x="375.5" y="380.5" textLength="5.4" lengthAdjust="spacingAndGlyphs">71</text>
 </g>
 <rect x="453" y="336.8" width="12.8" height="14.1" fill="#982f35" stroke="#8a2a30" stroke-width="0.4"/>
 <rect x="453" y="365.6" width="12.8" height="14.2" fill="#edbfc1"/>

 <g fill="#2b2d66">
  <path fill-rule="evenodd" d="M523.2,16 A12.7,12.75 0 1 1 523.1,16 Z M523.35,21.7 A6.9,6.9 0 1 0 523.45,21.7 Z"/>
  <path d="M519.5,35.2 C522,33.5 527,32.3 533,32.3 C537,32.3 540.5,34.5 544.6,39.4 L545.6,41 L533,41.2 L524,41.8 Z"/>
  <path fill-rule="evenodd" d="M539.6,16.2 L549,16.2 A6.75,6.75 0 0 1 549.5,29.6 L557.5,40.5 L551.3,40.5 L544.7,30.3 L544.7,40.5 L539.6,40.5 Z M544.7,21.3 L548.2,21.3 A3.05,3.05 0 0 1 548.2,27.4 L544.7,27.4 Z"/>
  <path fill-rule="evenodd" d="M570.9,16.2 A13.4,13 0 1 1 570.8,16.2 Z M570.95,22.2 A7.45,7.2 0 1 0 571.05,22.2 Z"/>
 </g>
 <path d="M528.8,32.75 C530.5,32.4 532,32.3 533,32.3 C537,32.3 540.5,34.5 544.6,39.4" fill="none" stroke="#fff" stroke-width="0.9"/>
 <path d="M522.3,45.3 H547.5 V62 H524.5 A2.2,2.2 0 0 1 522.3,59.8 Z" fill="#c92f8c"/>
 <rect x="547.5" y="45.3" width="23.4" height="16.7" fill="#2b2d66"/>
 <text x="535.2" y="59.5" text-anchor="middle" font-family="Liberation Sans,Arial,sans-serif" font-weight="bold" font-size="12" fill="#fff">TÚ</text>
 <text x="558.4" y="59.5" text-anchor="middle" font-family="Liberation Sans,Arial,sans-serif" font-weight="bold" font-size="12" fill="#fff">YO</text>
 <circle cx="604" cy="40" r="8" fill="none" stroke="#e6e6e6" stroke-width="1.2"/>
</svg>
<div class="leg" style="top:332.9px;transform:scaleX(0.975)">Con Casos Confirmados<br>Activos</div>
<div class="leg" style="top:367.9px;transform:scaleX(0.95)">Sin Casos Activos</div>
</body></html>
